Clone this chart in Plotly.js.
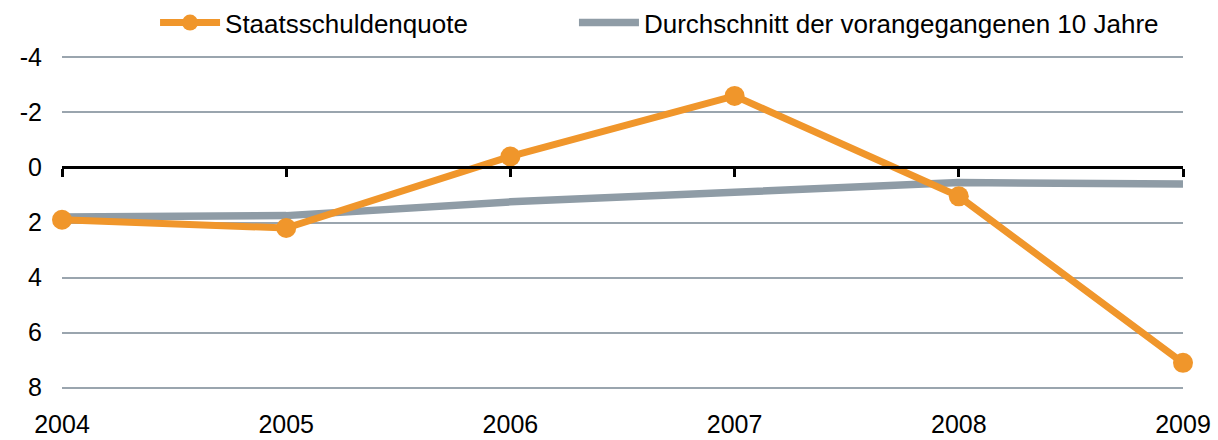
<!DOCTYPE html>
<html>
<head>
<meta charset="utf-8">
<script src="https://cdn.plot.ly/plotly-3.0.1.min.js"></script>
<style>html,body{margin:0;padding:0;background:#fff}#chart{width:1218px;height:440px}</style>
</head>
<body>
<div id="chart"></div>
<script>
const years = [2004, 2005, 2006, 2007, 2008, 2009];
const yearLabels = ["2004", "2005", "2006", "2007", "2008", "2009"];
const staatsschuldenquote = [1.9, 2.2, -0.4, -2.6, 1.05, 7.1];
const durchschnitt10 = [1.8, 1.75, 1.25, 0.9, 0.55, 0.6];
const yTickVals = [-4, -2, 0, 2, 4, 6, 8];
const yTickText = ["-4", "-2", "0", "2", "4", "6", "8"];

const orange = '#f0962b';
const grey = '#8f9ca6';
const tickFont = {family: 'Liberation Sans, Arial, sans-serif', size: 25, color: '#000'};
const legendFont = {family: 'Liberation Sans, Arial, sans-serif', size: 26, color: '#000'};

const yMin = -4.05, yMax = 8.05;

const traces = [
  {
    x: years, y: durchschnitt10, type: 'scatter', mode: 'lines',
    name: 'Durchschnitt der vorangegangenen 10 Jahre', legend: 'legend2',
    line: {color: grey, width: 7.5}, cliponaxis: false, hoverinfo: 'skip'
  },
  {
    x: years, y: staatsschuldenquote, type: 'scatter', mode: 'lines+markers',
    name: 'Staatsschuldenquote', legend: 'legend',
    line: {color: orange, width: 7}, marker: {color: orange, size: 20},
    cliponaxis: false, hoverinfo: 'skip'
  },
  {
    x: years, y: durchschnitt10, type: 'scatter', mode: 'lines', xaxis: 'x2',
    line: {color: 'rgba(0,0,0,0)', width: 0}, showlegend: false, hoverinfo: 'skip'
  }
];

const legendCommon = {
  orientation: 'h', xanchor: 'left', y: 1.1, yanchor: 'middle',
  font: legendFont, itemwidth: 60, bgcolor: 'rgba(0,0,0,0)'
};

const layout = {
  width: 1218, height: 440,
  margin: {l: 62, r: 35, t: 56, b: 51, autoexpand: false},
  paper_bgcolor: '#fff', plot_bgcolor: '#fff',
  font: tickFont,
  showlegend: true,
  legend: Object.assign({}, legendCommon, {x: 0.083}),
  legend2: Object.assign({}, legendCommon, {x: 0.4567}),
  xaxis: {
    range: [2004, 2009], tickvals: years, ticktext: yearLabels,
    showgrid: false, zeroline: false, showline: false,
    ticks: 'outside', ticklen: 13, tickcolor: 'rgba(0,0,0,0)', tickfont: tickFont, fixedrange: true
  },
  xaxis2: {
    range: [2004, 2009], overlaying: 'x', anchor: 'free', position: yMax / (yMax - yMin), side: 'bottom',
    tickvals: years, showticklabels: false, showgrid: false, zeroline: false,
    showline: true, linecolor: '#000', linewidth: 3,
    ticks: 'outside', ticklen: 8, tickwidth: 3, tickcolor: '#000'
  },
  yaxis: {
    range: [yMax, yMin], tickvals: yTickVals, ticktext: yTickText,
    showgrid: true, gridcolor: '#9aa5ae', gridwidth: 2,
    zeroline: false, showline: false,
    ticks: 'outside', ticklen: 14, tickcolor: 'rgba(0,0,0,0)', tickfont: tickFont
  }
};

Plotly.newPlot('chart', traces, layout, {displayModeBar: false, staticPlot: true});
</script>
</body>
</html>
